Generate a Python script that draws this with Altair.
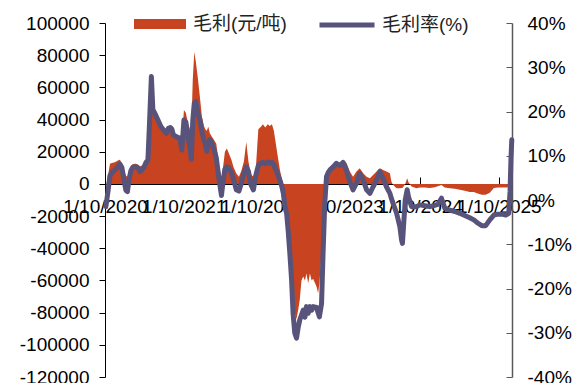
import altair as alt
import pandas as pd

dates = [
    "2020-10-05", "2020-10-15", "2020-10-24", "2020-11-02", "2020-11-16", "2020-11-30",
    "2020-12-09", "2020-12-18", "2020-12-28", "2021-01-06", "2021-01-13", "2021-01-20",
    "2021-01-29", "2021-02-07", "2021-02-21", "2021-03-03", "2021-03-12", "2021-03-21",
    "2021-03-31", "2021-04-09", "2021-04-18", "2021-04-25", "2021-05-04", "2021-05-11",
    "2021-05-20", "2021-06-03", "2021-06-17", "2021-06-29", "2021-07-13", "2021-07-22",
    "2021-07-31", "2021-08-07", "2021-08-14", "2021-08-28", "2021-09-13", "2021-09-22",
    "2021-10-02", "2021-10-11", "2021-10-20", "2021-10-30", "2021-11-05", "2021-11-12",
    "2021-11-19", "2021-11-26", "2021-12-06", "2021-12-15", "2021-12-24", "2022-01-03",
    "2022-01-09", "2022-01-16", "2022-01-23", "2022-01-30", "2022-02-08", "2022-02-18",
    "2022-03-01", "2022-03-13", "2022-03-25", "2022-04-01", "2022-04-10", "2022-04-19",
    "2022-04-28", "2022-05-10", "2022-05-21", "2022-06-02", "2022-06-14", "2022-06-25",
    "2022-07-07", "2022-07-18", "2022-07-28", "2022-08-08", "2022-08-20", "2022-08-31",
    "2022-09-12", "2022-09-24", "2022-10-03", "2022-10-14", "2022-10-26", "2022-11-04",
    "2022-11-14", "2022-11-23", "2022-12-02", "2022-12-11", "2022-12-21", "2022-12-30",
    "2023-01-06", "2023-01-13", "2023-01-21", "2023-01-28", "2023-02-05", "2023-02-13",
    "2023-02-20", "2023-02-28", "2023-03-08", "2023-03-16", "2023-03-23", "2023-03-31",
    "2023-04-08", "2023-04-16", "2023-04-23", "2023-05-01", "2023-05-09", "2023-05-17",
    "2023-05-24", "2023-06-09", "2023-06-16", "2023-06-22", "2023-07-02", "2023-07-09",
    "2023-07-17", "2023-07-25", "2023-08-03", "2023-08-10", "2023-08-25", "2023-09-09",
    "2023-09-25", "2023-10-10", "2023-10-26", "2023-11-10", "2023-11-25", "2023-12-11",
    "2023-12-26", "2024-01-11", "2024-01-27", "2024-02-11", "2024-02-26", "2024-03-13",
    "2024-03-28", "2024-04-12", "2024-04-28", "2024-05-14", "2024-05-21", "2024-05-29",
    "2024-06-14", "2024-06-29", "2024-07-07", "2024-07-11", "2024-07-17", "2024-07-24",
    "2024-08-02", "2024-08-08", "2024-08-22", "2024-09-14", "2024-09-30", "2024-10-23",
    "2024-11-15", "2024-12-08", "2024-12-22", "2025-01-08", "2025-01-23", "2025-02-16",
    "2025-03-11", "2025-04-03", "2025-04-26", "2025-05-19", "2025-06-07", "2025-06-25",
    "2025-07-14", "2025-08-01", "2025-08-20", "2025-09-08", "2025-09-26", "2025-10-15",
    "2025-11-02", "2025-11-16", "2025-11-22", "2025-11-26", "2025-11-30",
]

# 毛利 (元/吨)
gross_profit = [
    -2000, 5000, 12500, 13000, 13500, 14500,
    15000, 13000, 9000, 5000, 4500, 8000,
    11000, 12400, 12500, 12000, 10800, 11500,
    12500, 15000, 20000, 35000, 46000, 47000,
    45000, 42000, 38000, 35500, 33500, 34500,
    34000, 33000, 31500, 31000, 29500, 27000,
    46000, 44000, 38000, 34000, 33000, 65000,
    82000, 76000, 65000, 54000, 42000, 36000,
    34000, 33000, 35500, 31500, 29500, 27500,
    25000, 12000, 4000, 10000, 20000, 22000,
    19000, 15000, 10000, 6500, 4500, 8000,
    14000, 26000, 14000, 6000, 4500, 9000,
    34000, 35500, 37000, 35000, 37000, 36000,
    37000, 33000, 25000, 17000, 8700, 3000,
    0, -8000, -18000, -33000, -47000, -64000,
    -74000, -80000, -84000, -78000, -72000, -60000,
    -57600, -60000, -55600, -61800, -55600, -60000,
    -59000, -63900, -68000, -62000, -43000, -22000,
    -5600, 2500, 7000, 8700, 10500, 11800,
    12500, 13900, 13000, 7700, 4500, 7700,
    9800, 6600, 4500, 3500, 5600, 7700,
    9800, 8700, 7700, 6600, 1400, -600,
    -2700, -2700, -2500, -2500, -1500, 0,
    3500, 1000, -1600, -2700, -2200, -2200,
    -2500, -2000, -1500, -600, -2200, -2700,
    -3000, -3700, -4300, -5000, -5000, -6000,
    -6800, -6800, -5500, -2500, -2200, -2200,
    -2200, -2000, 5000, 15000, 22000,
]

# 毛利率 (%)
margin_pct = [
    -1.5, 2.0, 5.5, 6.2, 6.8, 7.5,
    8.1, 7.4, 4.5, 2.2, 1.9, 4.5,
    6.6, 7.4, 7.5, 7.3, 6.4, 6.8,
    7.4, 8.5, 9.0, 17.0, 27.9, 20.4,
    19.6, 18.1, 16.6, 15.8, 15.1, 16.2,
    16.4, 16.0, 14.7, 14.3, 14.0, 11.3,
    18.1, 17.6, 14.3, 12.0, 9.2, 18.0,
    21.9, 22.2, 19.6, 18.1, 15.5, 13.5,
    12.8, 11.0, 12.8, 13.6, 12.8, 11.5,
    9.5, 5.0, 1.0, 4.0, 7.0, 7.5,
    7.2, 6.3, 4.5, 2.3, 2.0, 3.8,
    6.0, 7.5, 6.5, 3.5, 2.3, 5.5,
    7.8, 8.3, 8.5, 8.2, 8.6, 8.3,
    8.5, 8.0, 6.8, 5.8, 4.5, 3.0,
    1.5, -1.5, -3.0, -6.8, -12.0, -18.0,
    -25.6, -30.1, -31.2, -28.7, -27.1, -26.0,
    -24.9, -26.5, -24.1, -25.6, -24.1, -24.9,
    -24.1, -24.3, -25.5, -26.4, -23.4, -12.0,
    -0.7, 5.3, 6.3, 6.8, 7.5, 8.3,
    7.8, 8.5, 6.6, 4.1, 2.3, 3.8,
    6.0, 4.5, 2.3, 1.5, 3.0, 4.5,
    6.4, 4.9, 3.0, 1.5, 0.3, -0.8,
    -3.0, -6.0, -9.0, -9.8, -5.3, 0.0,
    2.3, 0.75, -1.5, -1.5, -1.1, -1.3,
    -1.5, -1.2, -1.0, 0.4, -1.8, -2.3,
    -2.6, -3.0, -3.5, -4.0, -4.5, -5.2,
    -5.8, -5.8, -4.5, -3.4, -3.2, -3.2,
    -3.4, -3.0, 2.0, 9.0, 13.6,
]

series_names = ["毛利(元/吨)", "毛利率(%)"]
left_ticks = list(range(-120000, 100001, 20000))
right_ticks = list(range(-40, 41, 10))
tick_years = [2020, 2021, 2022, 2023, 2024, 2025]

df = pd.DataFrame({"date": dates, "gp": gross_profit, "gm": margin_pct})
df["s1"] = series_names[0]
df["s2"] = series_names[1]

FONT = "Liberation Sans, Arial, Noto Sans CJK SC"
FS = 19
AREA_C = "#C8431F"
LINE_C = "#57537A"

x_vals = [alt.DateTime(year=y, month=10, date=1, utc=True) for y in tick_years]
x_scale = alt.Scale(domain=[alt.DateTime(year=2020, month=10, date=1, utc=True),
                            alt.DateTime(year=2025, month=12, date=1, utc=True)])
W, H = 407, 354

base = alt.Chart(df)

area = base.mark_area(color=AREA_C, opacity=1).encode(
    x=alt.X("date:T", scale=x_scale,
            axis=alt.Axis(orient="bottom", offset=-193, values=x_vals,
                          labelExpr="utcFormat(datum.value, '%-d/%-m/%Y')",
                          ticks=False, domainColor="black", domainWidth=1,
                          labelFont=FONT, labelFontSize=FS, labelColor="black",
                          labelPadding=13, labelOverlap=False, labelFlush=False,
                          labelBound=False, grid=False, title=None)),
    y=alt.Y("gp:Q", scale=alt.Scale(domain=[-120000, 100000], nice=False),
            axis=alt.Axis(orient="left", values=left_ticks, labelExpr="'' + datum.value",
                          tickSize=6, tickColor="black", domainColor="black",
                          labelFont=FONT, labelFontSize=FS, labelColor="black",
                          labelPadding=10, grid=False, title=None)),
    color=alt.Color("s1:N", scale=alt.Scale(domain=[series_names[0]], range=[AREA_C]),
                    legend=alt.Legend(title=None, orient="none", legendX=29, legendY=-25,
                                      symbolType="M-1,-0.19H1V0.19H-1Z", symbolSize=2704,
                                      symbolStrokeWidth=0, symbolOpacity=1,
                                      labelFont=FONT, labelFontSize=FS, labelColor="#222",
                                      labelOffset=7, padding=0)),
)

line = base.mark_line(strokeWidth=5, strokeJoin="round", strokeCap="round").encode(
    x=alt.X("date:T", scale=x_scale, axis=None),
    y=alt.Y("gm:Q", scale=alt.Scale(domain=[-40, 40], nice=False),
            axis=alt.Axis(orient="right", values=right_ticks, labelExpr="datum.value + '%'",
                          ticks=False, domainColor="#595959", domainWidth=1.5,
                          labelFont=FONT, labelFontSize=FS, labelColor="black",
                          labelPadding=15, grid=False, title=None)),
    stroke=alt.Stroke("s2:N", scale=alt.Scale(domain=[series_names[1]], range=[LINE_C]),
                      legend=alt.Legend(title=None, orient="none", legendX=212, legendY=-28,
                                        symbolType="stroke", symbolSize=3025,
                                        symbolStrokeWidth=5,
                                        labelFont=FONT, labelFontSize=FS, labelColor="#222",
                                        labelOffset=5, padding=0)),
)

ticks_layer = base.mark_line(strokeOpacity=0).encode(
    x=alt.X("date:T", scale=x_scale,
            axis=alt.Axis(orient="top", offset=-161, values=x_vals, labels=False,
                          domain=False, ticks=True, tickSize=7, tickColor="black",
                          grid=False, title=None)),
    y=alt.Y("gm:Q", scale=alt.Scale(domain=[-40, 40], nice=False),
            axis=alt.Axis(orient="left", offset=-W, values=right_ticks, labels=False,
                          domain=False, ticks=True, tickSize=6, tickColor="#595959",
                          grid=False, title=None)),
)

chart = alt.layer(area, line, ticks_layer).resolve_scale(
    y="independent", color="independent", stroke="independent"
).resolve_axis(x="independent", y="independent").properties(
    width=W, height=H,
    autosize=alt.AutoSizeParams(type="none"),
    padding={"left": 97, "top": 15, "right": 60, "bottom": 6},
    background="white",
).configure_view(stroke=None)

chart.save("out.html", embed_options={"renderer": "svg", "actions": False})
